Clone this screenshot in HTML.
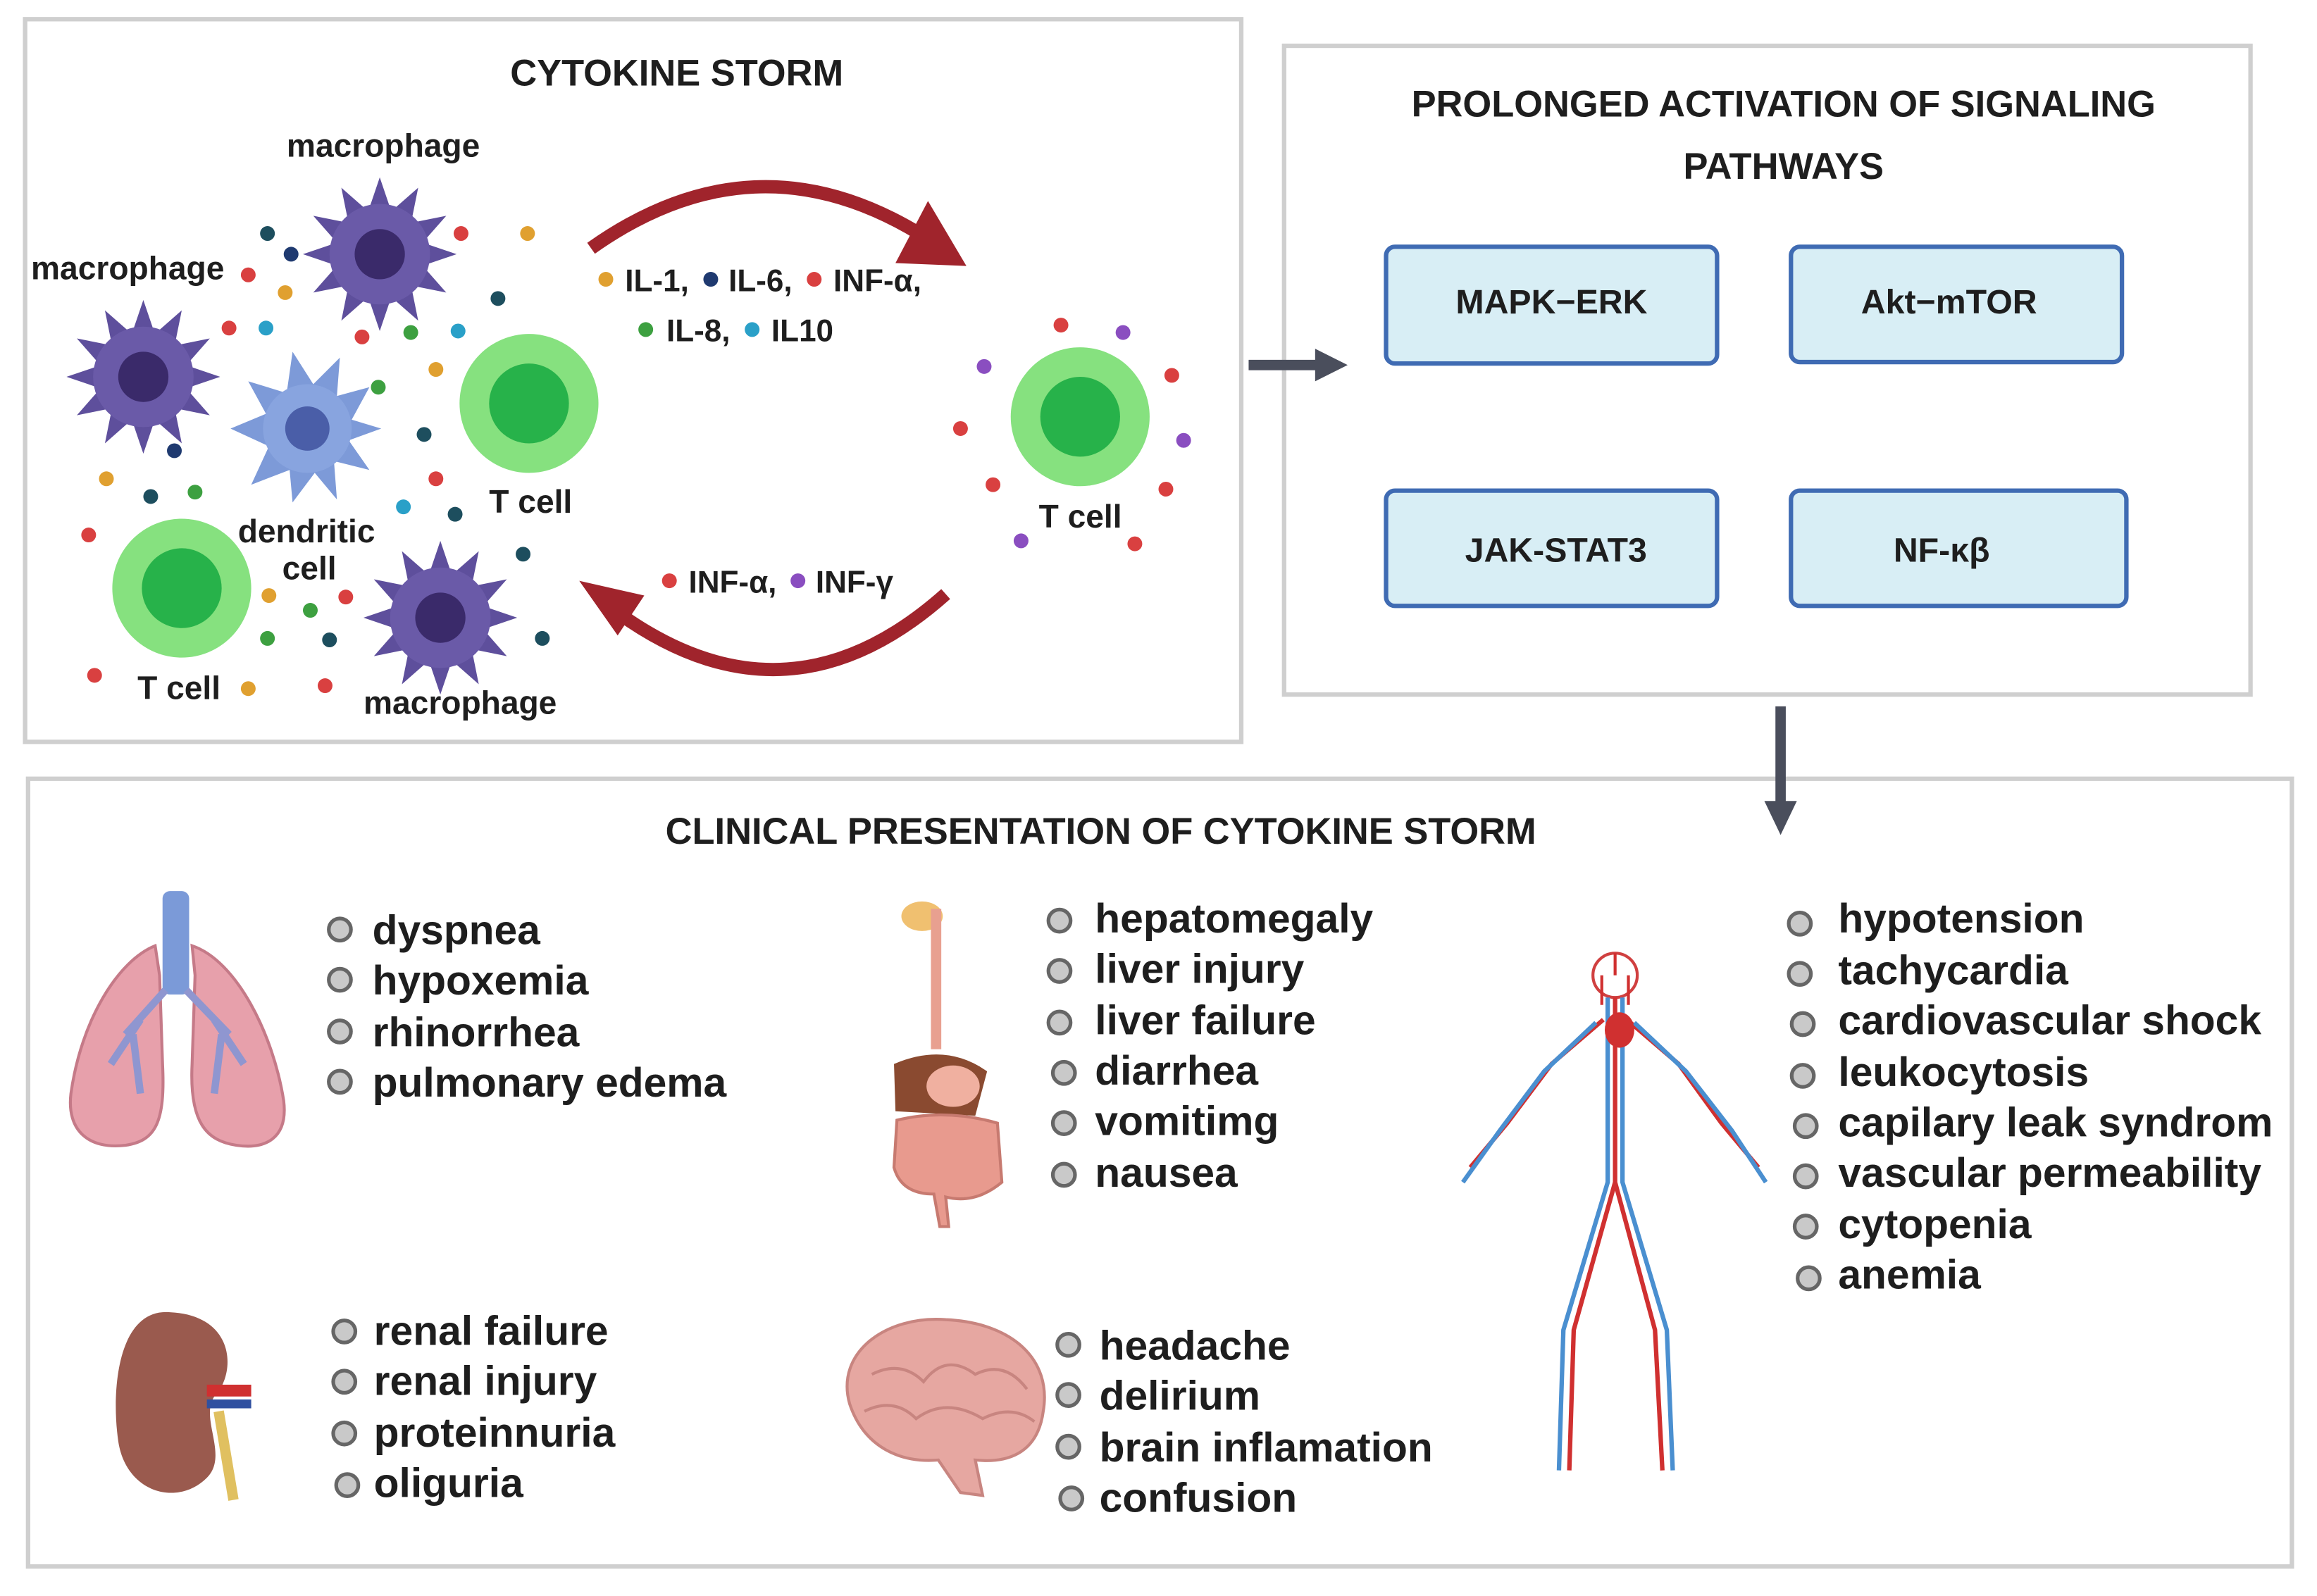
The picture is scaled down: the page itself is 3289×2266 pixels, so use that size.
<!DOCTYPE html>
<html><head><meta charset="utf-8"><style>
html,body{margin:0;padding:0;background:#fff}
svg{display:block}
text{font-family:"Liberation Sans",Arial,sans-serif;font-weight:bold;fill:#1e1e1e}
</style></head><body>
<svg width="3289" height="2266" viewBox="0 0 1568 1080" preserveAspectRatio="none" xmlns="http://www.w3.org/2000/svg">
<defs>
<g id="mac">
<polygon points="52,0 29,7.8 45,26 21.2,21.2 26,45 7.8,29 0,52 -7.8,29 -26,45 -21.2,21.2 -45,26 -29,7.8 -52,0 -29,-7.8 -45,-26 -21.2,-21.2 -26,-45 -7.8,-29 0,-52 7.8,-29 26,-45 21.2,-21.2 45,-26 29,-7.8" fill="#5e4f9c"/>
<circle r="34" fill="#6a5aa8"/>
<circle r="17" fill="#3a2a6a"/>
</g>
<g id="tc"><circle r="47" fill="#86e17f"/><circle r="27" fill="#27b24a"/></g>
<g id="bul"><circle r="7.5" fill="#c9c9c9" stroke="#666" stroke-width="2.5"/></g>
</defs>
<rect x="0" y="0" width="1568" height="1080" fill="#fff"/>
<rect x="17" y="13" width="823" height="489" fill="none" stroke="#cfcfcf" stroke-width="3"/>
<rect x="869" y="31" width="654" height="439" fill="none" stroke="#cfcfcf" stroke-width="3"/>
<rect x="19" y="527" width="1532" height="533" fill="none" stroke="#cfcfcf" stroke-width="3"/>

<text x="458" y="58" font-size="25" text-anchor="middle">CYTOKINE STORM</text>
<text x="1207" y="79" font-size="25" text-anchor="middle">PROLONGED ACTIVATION OF SIGNALING</text>
<text x="1207" y="121" font-size="25" text-anchor="middle">PATHWAYS</text>
<text x="745" y="571" font-size="25" text-anchor="middle">CLINICAL PRESENTATION OF CYTOKINE STORM</text>

<line x1="845" y1="247" x2="893" y2="247" stroke="#4a4e5c" stroke-width="7"/>
<polygon points="890,236 912,247 890,258" fill="#4a4e5c"/>
<line x1="1205" y1="478" x2="1205" y2="545" stroke="#4a4e5c" stroke-width="7"/>
<polygon points="1194,542 1216,542 1205,565" fill="#4a4e5c"/>

<g stroke="#3f6bb3" stroke-width="3" fill="#d8eef5">
<rect x="938" y="167" width="224" height="79" rx="6"/>
<rect x="1212" y="167" width="224" height="78" rx="6"/>
<rect x="938" y="332" width="224" height="78" rx="6"/>
<rect x="1212" y="332" width="227" height="78" rx="6"/>
</g>
<text x="1050" y="212" font-size="23" text-anchor="middle">MAPK−ERK</text>
<text x="1319" y="212" font-size="23" text-anchor="middle">Akt−mTOR</text>
<text x="1053" y="380" font-size="23" text-anchor="middle">JAK-STAT3</text>
<text x="1314" y="380" font-size="23" text-anchor="middle">NF-κβ</text>

<path d="M400,168 Q510,90 622,158" fill="none" stroke="#a0242c" stroke-width="9"/>
<polygon points="628,136 654,180 606,178" fill="#a0242c"/>
<path d="M640,402 Q530,500 412,410" fill="none" stroke="#a0242c" stroke-width="9"/>
<polygon points="392,393 436,403 418,430" fill="#a0242c"/>

<use href="#mac" x="257" y="172"/>
<use href="#mac" x="97" y="255"/>
<use href="#mac" x="298" y="418"/>
<g transform="translate(208,290)">
<polygon points="50,0 28,8 42,28 18,22 20,48 5,30 -10,50 -12,28 -38,38 -26,12 -52,0 -28,-10 -40,-32 -14,-24 -10,-52 4,-30 22,-48 20,-22 42,-28 30,-6" fill="#7d9ad8"/>
<circle r="30" fill="#88a4df"/><circle r="15" fill="#4a5ea8"/>
</g>
<use href="#tc" x="358" y="273"/>
<use href="#tc" x="123" y="398"/>
<use href="#tc" x="731" y="282"/>

<g>
<circle cx="181" cy="158" r="5" fill="#1d4e5e"/><circle cx="197" cy="172" r="5" fill="#1f3a70"/>
<circle cx="312" cy="158" r="5" fill="#d94040"/><circle cx="357" cy="158" r="5" fill="#e0a030"/>
<circle cx="168" cy="186" r="5" fill="#d94040"/><circle cx="193" cy="198" r="5" fill="#e0a030"/>
<circle cx="337" cy="202" r="5" fill="#1d4e5e"/><circle cx="155" cy="222" r="5" fill="#d94040"/>
<circle cx="180" cy="222" r="5" fill="#2aa0c8"/><circle cx="245" cy="228" r="5" fill="#d94040"/>
<circle cx="278" cy="225" r="5" fill="#3da040"/><circle cx="310" cy="224" r="5" fill="#2aa0c8"/>
<circle cx="256" cy="262" r="5" fill="#3da040"/><circle cx="295" cy="250" r="5" fill="#e0a030"/>
<circle cx="287" cy="294" r="5" fill="#1d4e5e"/><circle cx="118" cy="305" r="5" fill="#1f3a70"/>
<circle cx="72" cy="324" r="5" fill="#e0a030"/><circle cx="102" cy="336" r="5" fill="#1d4e5e"/>
<circle cx="132" cy="333" r="5" fill="#3da040"/><circle cx="295" cy="324" r="5" fill="#d94040"/>
<circle cx="273" cy="343" r="5" fill="#2aa0c8"/><circle cx="308" cy="348" r="5" fill="#1d4e5e"/>
<circle cx="60" cy="362" r="5" fill="#d94040"/><circle cx="354" cy="375" r="5" fill="#1d4e5e"/>
<circle cx="182" cy="403" r="5" fill="#e0a030"/><circle cx="210" cy="413" r="5" fill="#3da040"/>
<circle cx="234" cy="404" r="5" fill="#d94040"/><circle cx="181" cy="432" r="5" fill="#3da040"/>
<circle cx="223" cy="433" r="5" fill="#1d4e5e"/><circle cx="367" cy="432" r="5" fill="#1d4e5e"/>
<circle cx="64" cy="457" r="5" fill="#d94040"/><circle cx="168" cy="466" r="5" fill="#e0a030"/>
<circle cx="220" cy="464" r="5" fill="#d94040"/>
<circle cx="718" cy="220" r="5" fill="#d94040"/><circle cx="760" cy="225" r="5" fill="#8a4ec0"/>
<circle cx="666" cy="248" r="5" fill="#8a4ec0"/><circle cx="793" cy="254" r="5" fill="#d94040"/>
<circle cx="650" cy="290" r="5" fill="#d94040"/><circle cx="801" cy="298" r="5" fill="#8a4ec0"/>
<circle cx="672" cy="328" r="5" fill="#d94040"/><circle cx="789" cy="331" r="5" fill="#d94040"/>
<circle cx="691" cy="366" r="5" fill="#8a4ec0"/><circle cx="768" cy="368" r="5" fill="#d94040"/>
</g>

<g font-size="22">
<text x="194" y="106">macrophage</text>
<text x="21" y="189">macrophage</text>
<text x="331" y="347">T cell</text>
<text x="161" y="367">dendritic</text>
<text x="191" y="392">cell</text>
<text x="93" y="473">T cell</text>
<text x="246" y="483">macrophage</text>
<text x="703" y="357">T cell</text>
</g>
<g font-size="21">
<circle cx="410" cy="189" r="5" fill="#e0a030"/><text x="423" y="197">IL-1,</text>
<circle cx="481" cy="189" r="5" fill="#1f3a70"/><text x="493" y="197">IL-6,</text>
<circle cx="551" cy="189" r="5" fill="#d94040"/><text x="564" y="197">INF-α,</text>
<circle cx="437" cy="223" r="5" fill="#3da040"/><text x="451" y="231">IL-8,</text>
<circle cx="509" cy="223" r="5" fill="#2aa0c8"/><text x="522" y="231">IL10</text>
<circle cx="453" cy="393" r="5" fill="#d94040"/><text x="466" y="401">INF-α,</text>
<circle cx="540" cy="393" r="5" fill="#8a4ec0"/><text x="552" y="401">INF-γ</text>
</g>

<g font-size="28">
<use href="#bul" x="230" y="629"/><text x="252" y="639">dyspnea</text>
<use href="#bul" x="230" y="663"/><text x="252" y="673">hypoxemia</text>
<use href="#bul" x="230" y="698"/><text x="252" y="708">rhinorrhea</text>
<use href="#bul" x="230" y="732"/><text x="252" y="742">pulmonary edema</text>

<use href="#bul" x="717" y="623"/><text x="741" y="631">hepatomegaly</text>
<use href="#bul" x="717" y="657"/><text x="741" y="665">liver injury</text>
<use href="#bul" x="717" y="692"/><text x="741" y="700">liver failure</text>
<use href="#bul" x="720" y="726"/><text x="741" y="734">diarrhea</text>
<use href="#bul" x="720" y="760"/><text x="741" y="768">vomitimg</text>
<use href="#bul" x="720" y="795"/><text x="741" y="803">nausea</text>

<use href="#bul" x="1218" y="625"/><text x="1244" y="631">hypotension</text>
<use href="#bul" x="1218" y="659"/><text x="1244" y="666">tachycardia</text>
<use href="#bul" x="1220" y="693"/><text x="1244" y="700">cardiovascular shock</text>
<use href="#bul" x="1220" y="728"/><text x="1244" y="735">leukocytosis</text>
<use href="#bul" x="1222" y="762"/><text x="1244" y="769">capilary leak syndrom</text>
<use href="#bul" x="1222" y="796"/><text x="1244" y="803">vascular permeability</text>
<use href="#bul" x="1222" y="830"/><text x="1244" y="838">cytopenia</text>
<use href="#bul" x="1224" y="865"/><text x="1244" y="872">anemia</text>

<use href="#bul" x="233" y="901"/><text x="253" y="910">renal failure</text>
<use href="#bul" x="233" y="935"/><text x="253" y="944">renal injury</text>
<use href="#bul" x="233" y="970"/><text x="253" y="979">proteinnuria</text>
<use href="#bul" x="235" y="1005"/><text x="253" y="1013">oliguria</text>

<use href="#bul" x="723" y="910"/><text x="744" y="920">headache</text>
<use href="#bul" x="723" y="944"/><text x="744" y="954">delirium</text>
<use href="#bul" x="723" y="979"/><text x="744" y="989">brain inflamation</text>
<use href="#bul" x="725" y="1014"/><text x="744" y="1023">confusion</text>
</g>

<g>
<path d="M105,640 C80,650 55,690 48,740 C45,765 60,778 85,775 C105,772 112,760 110,720 L108,660 Z" fill="#e7a0ab" stroke="#c57a88" stroke-width="2"/>
<path d="M130,640 C160,650 185,700 192,745 C195,770 180,778 160,775 C140,772 128,760 130,720 L132,660 Z" fill="#e7a0ab" stroke="#c57a88" stroke-width="2"/>
<rect x="110" y="603" width="18" height="70" rx="5" fill="#7b9ad8"/>
<path d="M112,670 L85,700 M126,670 L155,700 M95,690 L75,720 M145,690 L165,720 M90,700 L95,740 M150,700 L145,740" stroke="#8f96d0" stroke-width="5" fill="none"/>
</g>
<g>
<ellipse cx="624" cy="620" rx="14" ry="10" fill="#f0c070"/>
<rect x="630" y="615" width="7" height="95" fill="#e8a090"/>
<path d="M605,720 Q640,705 668,725 L660,755 L606,752 Z" fill="#8a4a30"/>
<ellipse cx="645" cy="735" rx="18" ry="14" fill="#f0b0a0"/>
<path d="M607,758 Q640,750 675,760 L678,800 Q660,815 640,810 L642,830 L636,830 L632,808 Q610,808 605,790 Z" fill="#e89a8e" stroke="#c77a70" stroke-width="2"/>
</g>
<g>
<path d="M115,888 C80,885 75,940 80,975 C85,1010 120,1020 140,1000 C155,985 135,960 145,945 C160,930 160,890 115,888 Z" fill="#9a5a4e"/>
<rect x="140" y="937" width="30" height="8" fill="#d03030"/>
<rect x="140" y="947" width="30" height="6" fill="#3050a0"/>
<path d="M148,955 L158,1015" stroke="#e0c060" stroke-width="7"/>
</g>
<g>
<path d="M575,950 C565,915 600,890 640,893 C685,895 712,920 706,955 C702,985 680,990 660,988 L665,1012 L650,1010 L635,988 C610,990 585,980 575,950 Z" fill="#e6a7a1" stroke="#c88580" stroke-width="2"/>
<path d="M590,930 Q610,920 625,935 Q640,915 660,930 Q680,920 695,940 M585,955 Q605,945 620,960 Q640,945 665,960 Q685,950 700,962" stroke="#c88580" stroke-width="2" fill="none"/>
</g>
<g fill="none" stroke-width="3">
<circle cx="1093" cy="660" r="15" stroke="#d04040" stroke-width="2"/>
<path d="M1093,675 L1093,800 M1093,800 L1065,900 L1062,995 M1093,800 L1120,900 L1125,995 M1085,690 L1050,720 L1020,760 L995,790 M1101,690 L1136,720 L1165,760 L1190,790" stroke="#d03030"/>
<path d="M1088,675 L1088,800 L1058,900 L1055,995 M1098,675 L1098,800 L1128,900 L1132,995 M1080,692 L1045,725 L1015,765 L990,800 M1106,692 L1141,725 L1172,765 L1195,800" stroke="#4a8fd0"/>
<path d="M1084,660 L1084,680 M1102,660 L1102,680 M1093,645 L1093,660" stroke="#d03030" stroke-width="2"/>
<ellipse cx="1096" cy="697" rx="10" ry="12" fill="#d03030" stroke="none"/>
</g>
</svg>
</body></html>
